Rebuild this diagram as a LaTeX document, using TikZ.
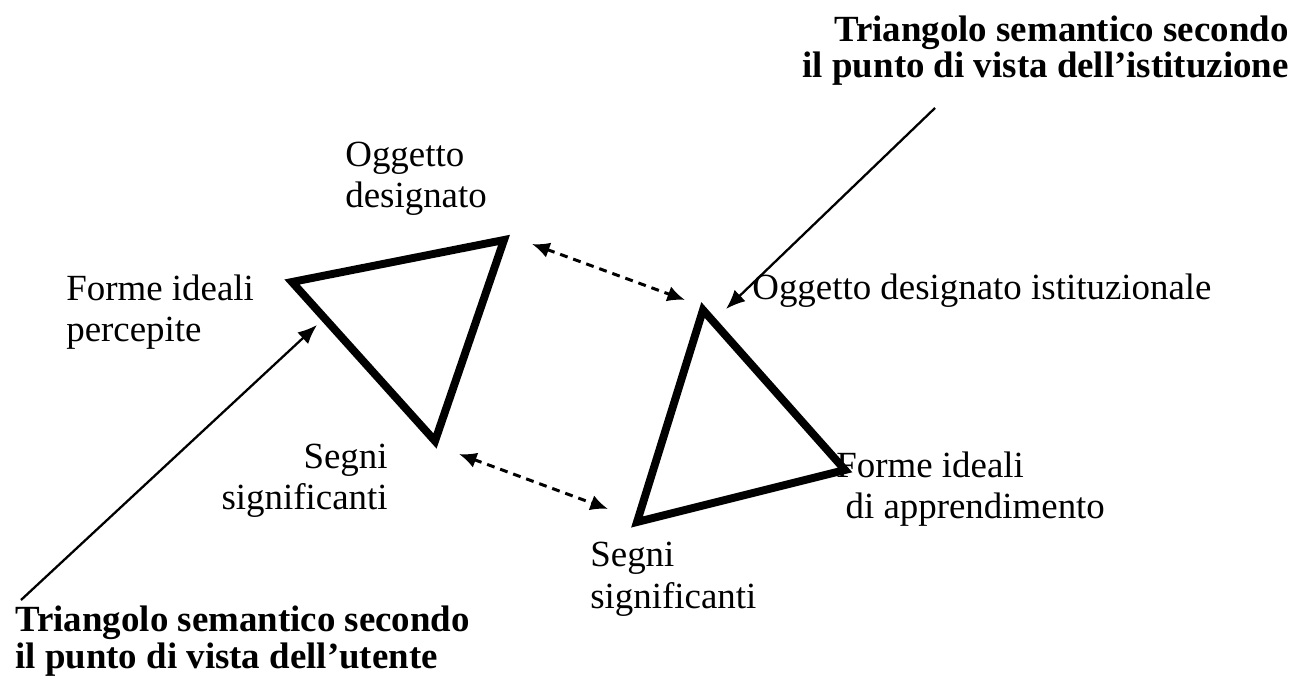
\documentclass[tikz,border=0pt]{standalone}
\usepackage{fontspec}
\setmainfont{Liberation Serif}
\usetikzlibrary{arrows.meta}

\tikzstyle{every node}=[font=\fontsize{21}{23.5}\selectfont, inner sep=0pt]
\tikzstyle{txt}=[align=left, anchor=base west]
\tikzstyle{title}=[font=\fontsize{21}{21}\selectfont\bfseries]
\tikzstyle{tri}=[line width=4.5pt, line join=miter]
\tikzstyle{link}=[line width=1.7pt, dash pattern=on 4.5pt off 3.4pt, {Latex[length=10pt,width=9pt]}-{Latex[length=10pt,width=9pt]}]
\tikzstyle{pointer}=[line width=1.3pt, -{Latex[length=11pt,width=9pt]}]

\begin{document}
\begin{tikzpicture}
	\useasboundingbox (0,0) rectangle (26.02,13.8);
	% triangolo dell'utente
	\coordinate (uOgg) at (10.08,9.0);
	\coordinate (uForme) at (5.84,8.16);
	\coordinate (uSegni) at (8.70,4.98);
	\draw[tri] (uForme) -- (uOgg) -- (uSegni) -- cycle;
	% triangolo dell'istituzione
	\coordinate (iOgg) at (14.06,7.60);
	\coordinate (iForme) at (16.90,4.40);
	\coordinate (iSegni) at (12.74,3.36);
	\draw[tri] (iOgg) -- (iForme) -- (iSegni) -- cycle;

	% etichette (base = ultima riga)
	\node[txt] (uOggLbl) at (6.90,9.64) {Oggetto\\designato};
	\node[txt] (uFormeLbl) at (1.32,6.96) {Forme ideali\\percepite};
	\node[txt, align=right, anchor=base east] (uSegniLbl) at (7.76,3.60) {Segni\\significanti};
	\node[txt] (iOggLbl) at (15.04,7.80) {Oggetto designato istituzionale};
	\node[txt] (iFormeLbl) at (16.72,3.42) {Forme ideali\\\hspace{0.25em}di apprendimento};
	\node[txt] (iSegniLbl) at (11.80,1.64) {Segni\\significanti};

	\node[txt, title] (uTitle) at (0.30,0.44) {Triangolo semantico secondo\\il punto di vista dell'utente};
	\node[txt, title, align=right, anchor=base east] (iTitle) at (25.78,12.24) {Triangolo semantico secondo\\il punto di vista dell'istituzione};

	% frecce
	\coordinate (uFrom) at (0.42,1.80);
	\coordinate (uTo) at (6.34,7.30);
	\draw[pointer] (uFrom) -- (uTo);
	\coordinate (iFrom) at (18.70,11.64);
	\coordinate (iTo) at (14.52,7.62);
	\draw[pointer] (iFrom) -- (iTo);

	\coordinate (oggA) at (10.64,8.92);
	\coordinate (oggB) at (13.70,7.80);
	\draw[link] (oggA) -- (oggB);
	\coordinate (segniA) at (9.18,4.72);
	\coordinate (segniB) at (12.16,3.62);
	\draw[link] (segniA) -- (segniB);
\end{tikzpicture}
\end{document}
